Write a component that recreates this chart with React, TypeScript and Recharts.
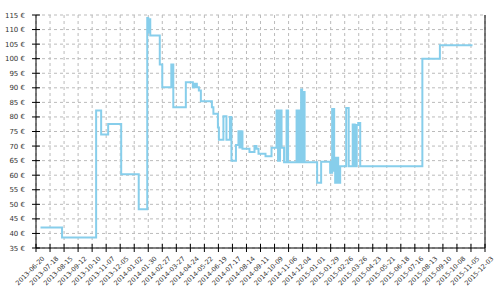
import React from 'react';
import { LineChart, Line, XAxis, YAxis, CartesianGrid, ReferenceLine } from 'recharts';

// price history (stepped)
const priceDates = [
  '2013-06-29', '2013-08-11', '2013-10-18', '2013-10-28', '2013-11-11', '2013-12-07',
  '2014-01-11', '2014-01-28', '2014-01-30', '2014-02-01', '2014-02-03', '2014-02-22',
  '2014-02-27', '2014-03-17', '2014-03-21', '2014-04-15', '2014-04-29', '2014-05-03',
  '2014-05-07', '2014-05-11', '2014-05-15', '2014-06-06', '2014-06-09', '2014-06-18',
  '2014-06-20', '2014-06-29', '2014-07-05', '2014-07-12', '2014-07-15', '2014-07-24',
  '2014-07-29', '2014-07-31', '2014-08-02', '2014-08-04', '2014-08-05', '2014-08-06',
  '2014-08-20', '2014-08-30', '2014-09-03', '2014-09-07', '2014-09-21', '2014-10-03',
  '2014-10-13', '2014-10-16', '2014-10-20', '2014-10-23', '2014-10-28', '2014-11-02',
  '2014-11-05', '2014-11-22', '2014-11-24', '2014-11-26', '2014-11-28', '2014-11-29',
  '2014-12-01', '2014-12-03', '2014-12-05', '2014-12-08', '2015-01-02', '2015-01-10',
  '2015-01-28', '2015-02-01', '2015-02-05', '2015-02-07', '2015-02-09', '2015-02-13',
  '2015-02-17', '2015-03-01', '2015-03-06', '2015-03-14', '2015-03-18', '2015-03-22',
  '2015-03-25', '2015-03-29', '2015-07-31', '2015-09-04', '2015-11-08',
];

const prices = [
  42, 38.6, 82.2, 74, 77.6, 60.3,
  48.3, 114, 109, 113.5, 108, 98,
  90.2, 98, 83.3, 91.9, 90.2, 91.4,
  90.2, 89.1, 85.4, 83.3, 81.1, 76.4,
  72.2, 80.2, 72.2, 80, 65, 70.4,
  75.1, 69.5, 75.1, 69.5, 75, 69.1,
  68, 70, 69.1, 67.4, 66.5, 69.4,
  82.2, 65, 82.2, 69.4, 64.4, 82.2,
  64.4, 82.2, 64.4, 82.2, 64.4, 82.2,
  89.4, 64.4, 88.6, 64.4, 57.4, 64.6,
  60.8, 82.7, 61.5, 57.4, 66, 57.4,
  63.1, 83.1, 63.1, 77.4, 63.1, 77.2,
  77.9, 63.1, 100, 104.6, 104.6,
];

const tickDates = [
  '2013-06-20', '2013-07-18', '2013-08-15', '2013-09-12', '2013-10-10', '2013-11-07',
  '2013-12-05', '2014-01-02', '2014-01-30', '2014-02-27', '2014-03-27', '2014-04-24',
  '2014-05-22', '2014-06-19', '2014-07-17', '2014-08-14', '2014-09-11', '2014-10-09',
  '2014-11-06', '2014-12-04', '2015-01-01', '2015-01-29', '2015-02-26', '2015-03-26',
  '2015-04-23', '2015-05-21', '2015-06-18', '2015-07-16', '2015-08-13', '2015-09-10',
  '2015-10-08', '2015-11-05', '2015-12-03',
];

const priceTicks = [35, 40, 45, 50, 55, 60, 65, 70, 75, 80, 85, 90, 95, 100, 105, 110, 115];

const DAY = 86400000;
const origin = Date.parse(tickDates[0]);
const toDay = (s: string) => Math.round((Date.parse(s) - origin) / DAY);
const fromDay = (d: number) => new Date(origin + d * DAY).toISOString().slice(0, 10);

const data = priceDates.map((d, i) => ({ day: toDay(d), price: prices[i] }));
const xTicks = tickDates.map(toDay);
const lastDay = xTicks[xTicks.length - 1];

const font = '"DejaVu Sans", sans-serif';

const YTick = ({ x, y, payload }: any) => (
  <g>
    <line x1={x - 4} x2={x + 4} y1={y} y2={y} stroke="#000" />
    <text x={x - 11} y={y} dy={2.5} textAnchor="end" fontSize={7} fontFamily={font} fill="#333">
      {payload.value} €
    </text>
  </g>
);

const XTick = ({ x, y, payload }: any) => (
  <g>
    <line x1={x} x2={x} y1={y - 4} y2={y + 4} stroke="#000" />
    <text
      transform={`translate(${x + 9},${y + 11}) rotate(-45)`}
      textAnchor="end"
      fontSize={6.5}
      fontFamily={font}
      fill="#333"
    >
      {fromDay(payload.value)}
    </text>
  </g>
);

export default function App() {
  return (
    <div style={{ position: 'absolute', left: 0, top: 0 }}>
      <LineChart width={500} height={300} data={data} margin={{ top: 15, right: 15, left: 0, bottom: 0 }}>
        <CartesianGrid stroke="#bbb" strokeDasharray="3 3" />
        <XAxis
          dataKey="day"
          type="number"
          domain={[0, lastDay]}
          ticks={xTicks}
          interval={0}
          height={52}
          tickSize={0}
          tickMargin={0}
          tickLine={false}
          axisLine={{ stroke: '#000' }}
          tick={<XTick />}
        />
        <YAxis
          type="number"
          domain={[35, 115]}
          ticks={priceTicks}
          interval={0}
          width={36}
          tickSize={0}
          tickMargin={0}
          tickLine={false}
          axisLine={{ stroke: '#000' }}
          tick={<YTick />}
        />
        <ReferenceLine x={lastDay} stroke="#000" />
        <Line
          type="stepAfter"
          dataKey="price"
          stroke="#87ceeb"
          strokeWidth={2}
          dot={false}
          isAnimationActive={false}
        />
      </LineChart>
    </div>
  );
}
